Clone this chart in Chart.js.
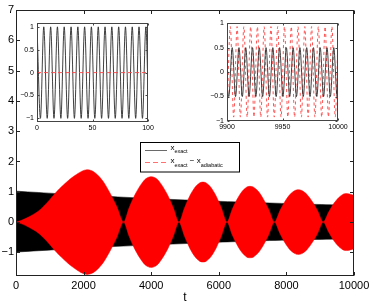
<!DOCTYPE html>
<html>
<head>
<meta charset="utf-8">
<script src="https://cdn.jsdelivr.net/npm/chart.js@4.4.0/dist/chart.umd.min.js"></script>
<style>
  html, body { margin: 0; padding: 0; background: #fff; }
  #wrap { position: relative; width: 374px; height: 307px; }
  canvas { position: absolute; }
</style>
</head>
<body>
<div id="wrap">
  <canvas id="main" width="374" height="307" style="left:0;top:0"></canvas>
  <canvas id="insetL" width="140" height="126" style="left:18px;top:16px"></canvas>
  <canvas id="insetR" width="150" height="126" style="left:205px;top:16px"></canvas>
</div>
<script>
// main plot, 0..10000: envelope of x_exact (black band)
var envT = [0, 2500, 5000, 7500, 10000];
var exactTop = [1.02, 0.86, 0.73, 0.63, 0.55];
var exactBot = [-0.99, -0.83, -0.71, -0.61, -0.55];

// envelope of x_exact - x_adiabatic (red lobes)
var diffT = [0, 150, 400, 650, 800, 1000, 1200, 1400, 1600, 1800, 1950, 2100, 2250, 2400, 2580, 2780, 2980, 3180,
  3350, 3500, 3650, 3800, 3900, 4000, 4100, 4200, 4350, 4500, 4650, 4820,
  4990, 5140, 5290, 5430, 5530, 5630, 5770, 5920, 6070, 6240,
  6400, 6540, 6680, 6820, 6920, 7030, 7180, 7330, 7480, 7645,
  7810, 7960, 8110, 8250, 8350, 8460, 8610, 8770, 8920, 9090,
  9250, 9400, 9550, 9680, 9780, 9890, 10000];
var diffAmp = [0, 0.05, 0.18, 0.35, 0.5, 0.74, 1.0, 1.22, 1.42, 1.58, 1.68, 1.73, 1.69, 1.57, 1.34, 0.96, 0.51, 0,
  0.48, 0.86, 1.16, 1.39, 1.47, 1.5, 1.47, 1.39, 1.16, 0.86, 0.48, 0,
  0.48, 0.86, 1.14, 1.29, 1.32, 1.29, 1.14, 0.86, 0.48, 0,
  0.43, 0.75, 1.0, 1.15, 1.18, 1.15, 1.0, 0.74, 0.41, 0,
  0.38, 0.69, 0.92, 1.04, 1.07, 1.04, 0.91, 0.67, 0.38, 0,
  0.33, 0.61, 0.81, 0.92, 0.94, 0.92, 0.88];

var mainXTicks = [0, 2000, 4000, 6000, 8000, 10000];
var mainYTicks = [-1, 0, 1, 2, 3, 4, 5, 6, 7];

// left inset, t = 0..100 (peaks and troughs)
var leftT = [0, 3.1, 6.1, 9.2, 12.3, 15.3, 18.4, 21.5, 24.5, 27.6, 30.7, 33.7, 36.8, 39.8, 42.9, 46.0, 49.0,
  52.1, 55.2, 58.2, 61.3, 64.4, 67.4, 70.5, 73.6, 76.6, 79.7, 82.7, 85.8, 88.9, 91.9, 95.0, 98.1, 100];
var leftExact = [1, -1, 1, -1, 1, -1, 1, -1, 1, -1, 1, -1, 1, -1, 1, -1, 1,
  -1, 1, -1, 1, -1, 1, -1, 1, -1, 1, -1, 1, -1, 1, -1, 1, -0.37];
var leftDiffT = [0, 100];
var leftDiff = [0, 0];
var leftXTicks = [0, 50, 100];
var insetYTicks = [-1, -0.5, 0, 0.5, 1];

// right inset, t = 9900..10000
var rightT = [9900, 9901.6, 9904.7, 9907.7, 9910.8, 9913.8, 9916.9, 9919.9, 9923.0, 9926.0, 9929.1, 9932.1,
  9935.2, 9938.2, 9941.3, 9944.3, 9947.4, 9950.4, 9953.5, 9956.5, 9959.6, 9962.6, 9965.7, 9968.7,
  9971.8, 9974.8, 9977.9, 9980.9, 9984.0, 9987.0, 9990.1, 9993.1, 9996.2, 9999.2, 10000];
var rightExact = [-0.3, -0.5, 0.5, -0.5, 0.5, -0.5, 0.5, -0.5, 0.5, -0.5, 0.5, -0.5,
  0.5, -0.5, 0.5, -0.5, 0.5, -0.5, 0.5, -0.5, 0.5, -0.5, 0.5, -0.5,
  0.5, -0.5, 0.5, -0.5, 0.5, -0.5, 0.5, -0.5, 0.5, -0.5, -0.45];
var rightDiffT = [9900, 9903.0, 9906.0, 9909.1, 9912.1, 9915.2, 9918.2, 9921.3, 9924.3, 9927.4, 9930.4,
  9933.5, 9936.5, 9939.6, 9942.6, 9945.7, 9948.7, 9951.8, 9954.8, 9957.9, 9960.9, 9964.0, 9967.0,
  9970.1, 9973.1, 9976.2, 9979.2, 9982.3, 9985.3, 9988.4, 9991.4, 9994.5, 9997.5, 10000];
var rightDiff = [-0.92, 0.93, -0.92, 0.93, -0.92, 0.93, -0.92, 0.93, -0.92, 0.93, -0.92,
  0.93, -0.92, 0.93, -0.92, 0.93, -0.92, 0.93, -0.92, 0.93, -0.92, 0.93, -0.92,
  0.93, -0.92, 0.93, -0.92, 0.93, -0.92, 0.93, -0.92, 0.93, -0.92, 0.7];
var rightXTicks = [9900, 9950, 10000];

Chart.defaults.font.family = '"Liberation Sans", Arial, Helvetica, sans-serif';
Chart.defaults.color = '#000';

function pts(xs, ys) {
  return xs.map(function (x, i) { return { x: x, y: ys[i] }; });
}
function label(v) {
  return String(v).replace('-', '\u2212');
}
function setTicks(list) {
  return function (scale) {
    scale.ticks = list.map(function (v) { return { value: v }; });
  };
}

// matlab style axes: box, inward ticks on all four sides
function boxPlugin(tickLen, color, white) {
  return {
    id: 'box',
    beforeDraw: function (chart) {
      if (!white) return;
      var a = chart.chartArea, ctx = chart.ctx;
      ctx.save();
      ctx.fillStyle = '#fff';
      ctx.fillRect(a.left, a.top, a.right - a.left, a.bottom - a.top);
      ctx.restore();
    },
    afterDraw: function (chart) {
      var ctx = chart.ctx, a = chart.chartArea;
      var xs = chart.scales.x, ys = chart.scales.y;
      var l = Math.round(a.left) + 0.5, r = Math.round(a.right) - 0.5;
      var t = Math.round(a.top) + 0.5, b = Math.round(a.bottom) - 0.5;
      ctx.save();
      ctx.strokeStyle = color;
      ctx.lineWidth = 1;
      ctx.beginPath();
      xs.ticks.forEach(function (tk) {
        var p = Math.round(xs.getPixelForValue(tk.value)) + 0.5;
        ctx.moveTo(p, b); ctx.lineTo(p, b - tickLen);
        ctx.moveTo(p, t); ctx.lineTo(p, t + tickLen);
      });
      ys.ticks.forEach(function (tk) {
        var p = Math.round(ys.getPixelForValue(tk.value)) + 0.5;
        ctx.moveTo(l, p); ctx.lineTo(l + tickLen, p);
        ctx.moveTo(r, p); ctx.lineTo(r - tickLen, p);
      });
      ctx.stroke();
      ctx.strokeRect(l, t, r - l, b - t);
      ctx.restore();
    }
  };
}

var legendBox = {
  id: 'legendBox',
  afterDraw: function (chart) {
    var ctx = chart.ctx;
    ctx.save();
    ctx.fillStyle = '#fff';
    ctx.fillRect(140.5, 142.5, 99, 29.5);
    ctx.strokeStyle = '#000';
    ctx.lineWidth = 1;
    ctx.strokeRect(140.5, 142.5, 99, 29.5);

    ctx.strokeStyle = '#444';
    ctx.lineWidth = 0.8;
    ctx.beginPath(); ctx.moveTo(145, 150.5); ctx.lineTo(167, 150.5); ctx.stroke();
    ctx.strokeStyle = '#ff7070';
    ctx.lineWidth = 1;
    ctx.setLineDash([5, 3]);
    ctx.beginPath(); ctx.moveTo(145, 162.5); ctx.lineTo(168, 162.5); ctx.stroke();
    ctx.setLineDash([]);

    var big = '8px "Liberation Sans", Arial, sans-serif';
    var small = '5.5px "Liberation Sans", Arial, sans-serif';
    ctx.fillStyle = '#000';
    ctx.textBaseline = 'alphabetic';
    ctx.textAlign = 'left';
    function run(parts, x, y) {
      parts.forEach(function (p) {
        ctx.font = p[1] ? small : big;
        ctx.fillText(p[0], x, y + (p[1] ? 3.5 : 0));
        x += ctx.measureText(p[0]).width;
      });
    }
    run([['x', 0], ['exact', 1]], 170.5, 149.5);
    run([['x', 0], ['exact', 1], [' \u2212 ', 0], ['x', 0], ['adiabatic', 1]], 170.5, 163);
    ctx.restore();
  }
};

new Chart(document.getElementById('main'), {
  type: 'line',
  data: {
    datasets: [
      { data: pts(diffT, diffAmp), borderColor: '#ff0000', backgroundColor: '#ff0000',
        borderWidth: 0.5, fill: '+1', tension: 0.3 },
      { data: pts(diffT, diffAmp.map(function (v) { return -v; })), borderColor: '#ff0000',
        borderWidth: 0.5, fill: false, tension: 0.3 },
      { data: pts(envT, exactTop), borderColor: '#000', backgroundColor: '#000',
        borderWidth: 0.5, fill: '+1', tension: 0.4 },
      { data: pts(envT, exactBot), borderColor: '#000', borderWidth: 0.5, fill: false, tension: 0.4 }
    ]
  },
  options: {
    responsive: false,
    animation: false,
    devicePixelRatio: 1,
    elements: { point: { radius: 0 } },
    layout: { padding: { left: 0, right: 20, top: 10, bottom: 0 } },
    plugins: { legend: { display: false }, tooltip: { enabled: false } },
    scales: {
      x: {
        type: 'linear', min: 0, max: 10000,
        grid: { display: false, drawTicks: false }, border: { display: false },
        afterBuildTicks: setTicks(mainXTicks),
        afterFit: function (s) { s.height = 31; },
        ticks: { font: { size: 11 }, padding: 3, maxRotation: 0, autoSkip: false, callback: label },
        title: { display: true, text: 't', font: { size: 12 }, padding: { top: 0, bottom: 2 } }
      },
      y: {
        min: -1.78, max: 7,
        grid: { display: false, drawTicks: false }, border: { display: false },
        afterBuildTicks: setTicks(mainYTicks),
        afterFit: function (s) { s.width = 16; },
        ticks: { font: { size: 11 }, padding: 2, autoSkip: false, callback: label }
      }
    }
  },
  plugins: [boxPlugin(3.5, '#222', false), legendBox]
});

function inset(id, datasets, xr, yr, xTicks, yWidth, xHeight, pad) {
  return new Chart(document.getElementById(id), {
    type: 'line',
    data: { datasets: datasets },
    options: {
      responsive: false,
      animation: false,
      devicePixelRatio: 1,
      elements: { point: { radius: 0 } },
      layout: { padding: pad },
      plugins: { legend: { display: false }, tooltip: { enabled: false } },
      scales: {
        x: {
          type: 'linear', min: xr[0], max: xr[1],
          grid: { display: false, drawTicks: false }, border: { display: false },
          afterBuildTicks: setTicks(xTicks),
          afterFit: function (s) { s.height = xHeight; },
          ticks: { font: { size: 7 }, padding: 2, maxRotation: 0, autoSkip: false, callback: label }
        },
        y: {
          min: yr[0], max: yr[1],
          grid: { display: false, drawTicks: false }, border: { display: false },
          afterBuildTicks: setTicks(insetYTicks),
          afterFit: function (s) { s.width = yWidth; },
          ticks: { font: { size: 7 }, padding: 3, autoSkip: false, callback: label }
        }
      }
    },
    plugins: [boxPlugin(2, '#444', true)]
  });
}

inset('insetL', [
  { data: pts(leftDiffT, leftDiff), borderColor: '#ff4040', borderWidth: 0.9, borderDash: [4, 3], fill: false },
  { data: pts(leftT, leftExact), borderColor: '#2a2a2a', borderWidth: 0.9, fill: false, cubicInterpolationMode: 'monotone' }
], [0, 100], [-1.08, 1.08], leftXTicks, 19, 20, { left: 0, right: 10, top: 5, bottom: 0 });

inset('insetR', [
  { data: pts(rightT, rightExact), borderColor: '#2a2a2a', borderWidth: 0.9, fill: false, cubicInterpolationMode: 'monotone' },
  { data: pts(rightDiffT, rightDiff), borderColor: '#ff4040', borderWidth: 0.9, borderDash: [3, 3], fill: false, cubicInterpolationMode: 'monotone' }
], [9900, 10000], [-1, 1], rightXTicks, 22, 21, { left: 0, right: 17, top: 6, bottom: 0 });
</script>
</body>
</html>
